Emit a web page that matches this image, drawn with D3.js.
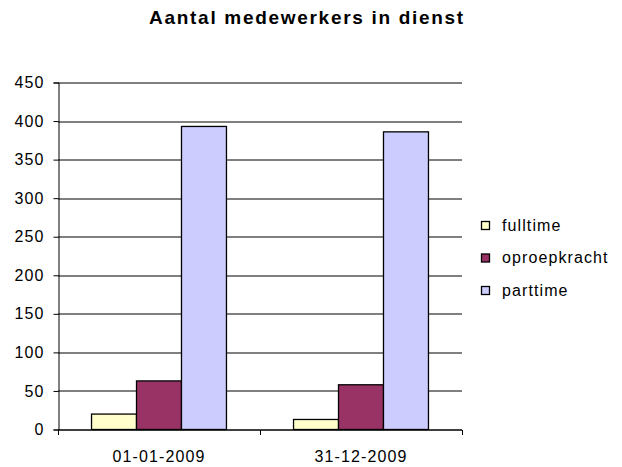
<!DOCTYPE html>
<html>
<head>
<meta charset="utf-8">
<script src="https://cdn.jsdelivr.net/npm/d3@7"></script>
<style>
body { margin: 0; background: #fff; }
svg text { font-family: "Liberation Sans", Arial, sans-serif; fill: #000; }
.title { font-size: 19px; font-weight: bold; letter-spacing: 1.7px; }
.label { font-size: 16px; letter-spacing: 1.1px; }
</style>
</head>
<body>
<svg></svg>
<script>
var categories = ["01-01-2009", "31-12-2009"];
var seriesNames = ["fulltime", "oproepkracht", "parttime"];
var fulltime = [20, 13];
var oproepkracht = [63, 58];
var parttime = [393, 386];
var yTicks = [0, 50, 100, 150, 200, 250, 300, 350, 400, 450];
var colors = ["#FFFFCC", "#993366", "#CCCCFF"];

var values = [fulltime, oproepkracht, parttime];

var screen = { width: 622, height: 467 };
var margins = { left: 58, right: 160, top: 82.5, bottom: 37.5 };
var graph = {
    width: screen.width - margins.left - margins.right,
    height: screen.height - margins.top - margins.bottom
};

var svg = d3.select("svg")
    .attr("width", screen.width)
    .attr("height", screen.height);

var xScale = d3.scaleBand()
    .domain(categories)
    .range([0, graph.width])
    .paddingInner(0.332)
    .paddingOuter(0.166);

var xInner = d3.scaleBand()
    .domain(seriesNames)
    .range([0, xScale.bandwidth()]);

var yScale = d3.scaleLinear()
    .domain([0, 450])
    .range([graph.height, 0]);

var target = svg.append("g")
    .attr("transform", "translate(" + margins.left + "," + margins.top + ")");

// gridlines
target.append("g")
    .selectAll("line")
    .data(yTicks)
    .enter()
    .append("line")
    .attr("x1", 0)
    .attr("x2", graph.width)
    .attr("y1", function (d) { return Math.round(yScale(d)) + 0.5; })
    .attr("y2", function (d) { return Math.round(yScale(d)) + 0.5; })
    .attr("stroke", "#000")
    .attr("stroke-width", 1);

// bars
var rows = [];
categories.forEach(function (cat, i) {
    seriesNames.forEach(function (s, j) {
        rows.push({ cat: cat, series: s, value: values[j][i], color: colors[j] });
    });
});

target.append("g")
    .selectAll("rect")
    .data(rows)
    .enter()
    .append("rect")
    .attr("x", function (d) { return xScale(d.cat) + xInner(d.series); })
    .attr("y", function (d) { return yScale(d.value); })
    .attr("width", xInner.bandwidth())
    .attr("height", function (d) { return graph.height - yScale(d.value); })
    .attr("fill", function (d) { return d.color; })
    .attr("stroke", "#000")
    .attr("stroke-width", 1.3);

// y axis
var yAxis = d3.axisLeft(yScale)
    .tickValues(yTicks)
    .tickSize(5)
    .tickPadding(9);

var yG = target.append("g")
    .attr("transform", "translate(0.5,0)")
    .call(yAxis);
yG.select(".domain").attr("stroke", "#000");
yG.selectAll(".tick line").attr("stroke", "#000");
yG.selectAll("text")
    .attr("class", "label")
    .attr("font-family", null)
    .attr("font-size", null)
    .attr("fill", "#000");
yG.attr("font-family", null).attr("font-size", null);

// x axis line + boundary ticks
var step = xScale.step();
var bounds = [0].concat(categories.map(function (c) {
    return xScale(c) + xScale.bandwidth() / 2 + step / 2;
}));

var xG = target.append("g")
    .attr("transform", "translate(0," + (Math.round(graph.height) + 0.5) + ")");
xG.append("line")
    .attr("x1", 0)
    .attr("x2", graph.width)
    .attr("stroke", "#000");
xG.selectAll(".xtick")
    .data(bounds)
    .enter()
    .append("line")
    .attr("x1", function (d) { return Math.round(d) + 0.5; })
    .attr("x2", function (d) { return Math.round(d) + 0.5; })
    .attr("y1", 0)
    .attr("y2", 5)
    .attr("stroke", "#000");
xG.selectAll("text")
    .data(categories)
    .enter()
    .append("text")
    .attr("class", "label")
    .attr("text-anchor", "middle")
    .attr("x", function (d) { return xScale(d) + xScale.bandwidth() / 2; })
    .attr("y", 32)
    .text(function (d) { return d; });

// title
svg.append("text")
    .attr("class", "title")
    .attr("text-anchor", "middle")
    .attr("x", 307)
    .attr("y", 24)
    .text("Aantal medewerkers in dienst");

// legend
var legend = svg.append("g")
    .attr("transform", "translate(481,221)");
var items = legend.selectAll("g")
    .data(seriesNames)
    .enter()
    .append("g")
    .attr("transform", function (d, i) { return "translate(0," + (i * 32.5) + ")"; });
items.append("rect")
    .attr("x", 0.5)
    .attr("y", 0.5)
    .attr("width", 8)
    .attr("height", 8)
    .attr("fill", function (d, i) { return colors[i]; })
    .attr("stroke", "#000")
    .attr("stroke-width", 1.3);
items.append("text")
    .attr("class", "label")
    .attr("x", 21)
    .attr("y", 9.5)
    .text(function (d) { return d; });
</script>
</body>
</html>
